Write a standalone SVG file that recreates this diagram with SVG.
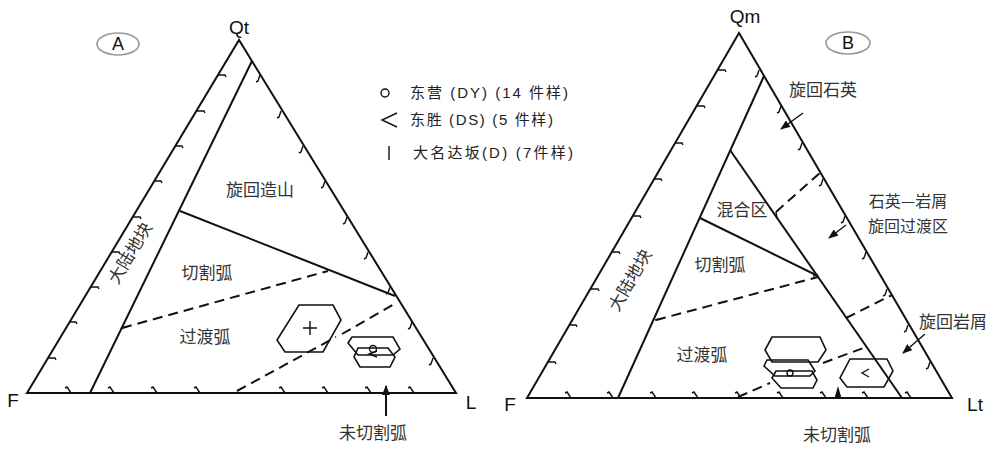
<svg xmlns="http://www.w3.org/2000/svg" width="991" height="449" viewBox="0 0 991 449">
<defs>
<style>
.ln{fill:none;stroke:#111;stroke-width:2;stroke-linejoin:miter}
.ds{fill:none;stroke:#111;stroke-width:2;stroke-dasharray:10,6}
.tk{fill:none;stroke:#111;stroke-width:1.4}
.hx{fill:none;stroke:#111;stroke-width:1.6}
.ax{font-family:"Liberation Sans",Arial,sans-serif;font-size:19px;fill:#111}
.zh{font-family:"Noto Sans CJK SC","Liberation Sans",sans-serif;font-size:17px;fill:#333}
.zs{font-family:"Noto Sans CJK SC","Liberation Sans",sans-serif;font-size:16px;fill:#333}
.lg{font-family:"Liberation Sans","Noto Sans CJK SC",sans-serif;font-size:15px;fill:#222}
.el{fill:none;stroke:#999;stroke-width:1.6}
.lt{font-family:"Liberation Sans",Arial,sans-serif;font-size:18px;fill:#111}
</style>
<marker id="ah" markerWidth="10" markerHeight="8" refX="9" refY="4" orient="auto" markerUnits="userSpaceOnUse">
<path d="M0,0 L10,4 L0,8 Z" fill="#111"/>
</marker>
</defs>
<rect width="991" height="449" fill="#fff"/>

<!-- Panel A -->
<g id="panelA">
<g id="A-frame">
<path class="ln" d="M27,393 L239,40 L456,393 Z"/>
<path class="ln" d="M252,61 L90,393"/>
<path class="ln" d="M180,211 L395,296"/>
</g>
<g id="A-ticks">
<path class="tk" d="M48,358 h7 l1,2 M69,322 h7 l1,2 M91,287 h7 l1,2 M112,252 h7 l1,2 M133,217 h7 l1,2 M154,181 h7 l1,2 M175,146 h7 l1,2 M197,111 h7 l1,2 M218,75 h7 l1,2"/>
<path class="tk" d="M433,358 l-2,6 l-2,1 M412,322 l-2,6 l-2,1 M390,287 l-2,6 l-2,1 M368,252 l-2,6 l-2,1 M347,217 l-2,6 l-2,1 M325,181 l-2,6 l-2,1 M303,146 l-2,6 l-2,1 M281,111 l-2,6 l-2,1 M260,75 l-2,6 l-2,1"/>
<path class="tk" d="M65,388 l2,-1 l4,6 M108,388 l2,-1 l4,6 M151,388 l2,-1 l4,6 M194,388 l2,-1 l4,6 M279,388 l2,-1 l4,6 M322,388 l2,-1 l4,6 M365,388 l2,-1 l4,6 M408,388 l2,-1 l4,6"/>
<path class="tk" d="M121,328 l6,-1"/>
</g>
<g id="A-connectors">
<path class="ds" d="M122,328 L328,271"/>
<path class="ds" d="M237,391 L336,337 M342,334 L396,303"/>
<path class="ln" d="M386,416 L386,386" marker-end="url(#ah)"/>
</g>
<g id="A-hex">
<path class="hx" d="M299,305 L333,305 L341,320 L323,352 L285,352 L277,340 Z"/>
<path class="tk" d="M303,328 h14 M310,321 v14"/>
<path class="hx" d="M352,337 L393,337 L400,349 L393,355 L358,355 L348,343 Z"/>
<path class="hx" d="M358,348 L388,348 L395,357 L390,367 L360,367 L354,357 Z"/>
<circle class="tk" cx="373" cy="349" r="3.5"/>
<path class="tk" d="M377,351 L369,354 L377,357"/>
</g>
<g id="A-labels">
<ellipse class="el" cx="118" cy="44" rx="21" ry="11"/>
<text class="lt" x="118" y="50" text-anchor="middle">A</text>
<text class="ax" x="239" y="34" text-anchor="middle">Qt</text>
<text class="ax" x="13" y="407" text-anchor="middle">F</text>
<text class="ax" x="471" y="409" text-anchor="middle">L</text>
<text class="zh" x="260" y="196" text-anchor="middle">旋回造山</text>
<text class="zh" x="207" y="279" text-anchor="middle">切割弧</text>
<text class="zh" x="205" y="343" text-anchor="middle">过渡弧</text>
<text class="zh" x="0" y="0" text-anchor="middle" transform="translate(130,253) rotate(-59) translate(0,6)">大陆地块</text>
<text class="zh" x="373" y="439" text-anchor="middle">未切割弧</text>
</g>
</g>

<!-- Legend -->
<g id="legend">
<circle class="tk" cx="385" cy="93" r="4"/>
<text class="lg" x="410" y="98" textLength="158" lengthAdjust="spacing">东营 (DY) (14 件样)</text>
<path class="tk" d="M397,113 L382,120 L397,127"/>
<text class="lg" x="410" y="125" textLength="143" lengthAdjust="spacing">东胜 (DS) (5 件样)</text>
<path class="tk" d="M389,146 v14"/>
<text class="lg" x="413" y="158" textLength="160" lengthAdjust="spacing">大名达坂(D) (7件样)</text>
</g>

<!-- Panel B -->
<g id="panelB">
<g id="B-frame">
<path class="ln" d="M527,398 L739,33 L952,398 Z"/>
<path class="ln" d="M764,76 L618,398"/>
<path class="ln" d="M730,150 L902,398"/>
<path class="ln" d="M700,218 L818,276"/>
</g>
<g id="B-ticks">
<path class="tk" d="M548,362 h7 l1,2 M569,325 h7 l1,2 M591,289 h7 l1,2 M612,252 h7 l1,2 M633,216 h7 l1,2 M654,179 h7 l1,2 M675,143 h7 l1,2 M697,106 h7 l1,2 M718,70 h7 l1,2"/>
<path class="tk" d="M930,362 l-2,6 l-2,1 M908,325 l-2,6 l-2,1 M887,289 l-2,6 l-2,1 M866,252 l-2,6 l-2,1 M845,216 l-2,6 l-2,1 M823,179 l-2,6 l-2,1 M802,143 l-2,6 l-2,1 M781,106 l-2,6 l-2,1 M759,70 l-2,6 l-2,1"/>
<path class="tk" d="M565,393 l2,-1 l4,6 M607,393 l2,-1 l4,6 M650,393 l2,-1 l4,6 M692,393 l2,-1 l4,6 M735,393 l2,-1 l4,6 M777,393 l2,-1 l4,6 M820,393 l2,-1 l4,6 M862,393 l2,-1 l4,6 M905,393 l2,-1 l4,6"/>
<path class="tk" d="M655,320 l6,-1 M776,212 l1,6 M818,275 l-5,1"/>
</g>
<g id="B-connectors">
<path class="ds" d="M776,212 L821,172"/>
<path class="ds" d="M656,320 L818,277"/>
<path class="ds" d="M846,318 L892,295"/>
<path class="ds" d="M738,397 L770,383 M823,363 L866,347"/>
<path class="tk" d="M803,113 L781,129" marker-end="url(#ah)"/>
<path class="tk" d="M846,225 L829,238" marker-end="url(#ah)"/>
<path class="tk" d="M925,334 L903,353" marker-end="url(#ah)"/>
<path d="M838,386 L834.5,398 L841.5,398 Z" fill="#111"/>
</g>
<g id="B-hex">
<path class="hx" d="M772,337 L820,337 L826,350 L818,362 L772,362 L765,350 Z"/>
<path class="hx" d="M767,360 L808,360 L815,371 L810,376 L775,376 L764,366 Z"/>
<path class="hx" d="M776,371 L812,371 L817,380 L813,388 L781,388 L772,378 Z"/>
<circle class="tk" cx="790" cy="373" r="3"/>
<path class="hx" d="M850,359 L887,359 L893,371 L884,387 L847,387 L840,378 Z"/>
<path class="tk" d="M869,369 L862,373 L869,377"/>
</g>
<g id="B-labels">
<ellipse class="el" cx="848" cy="43" rx="22" ry="11"/>
<text class="lt" x="848" y="49" text-anchor="middle">B</text>
<text class="ax" x="745" y="23" text-anchor="middle">Qm</text>
<text class="ax" x="510" y="411" text-anchor="middle">F</text>
<text class="ax" x="975" y="411" text-anchor="middle">Lt</text>
<text class="zh" x="823" y="96" text-anchor="middle">旋回石英</text>
<text class="zs" x="908" y="207" text-anchor="middle">石英—岩屑</text>
<text class="zs" x="908" y="232" text-anchor="middle">旋回过渡区</text>
<text class="zh" x="953" y="328" text-anchor="middle">旋回岩屑</text>
<text class="zh" x="742" y="216" text-anchor="middle">混合区</text>
<text class="zh" x="720" y="271" text-anchor="middle">切割弧</text>
<text class="zh" x="702" y="361" text-anchor="middle">过渡弧</text>
<text class="zh" x="0" y="0" text-anchor="middle" transform="translate(630,280) rotate(-60) translate(0,6)">大陆地块</text>
<text class="zh" x="837" y="441" text-anchor="middle">未切割弧</text>
</g>
</g>
</svg>
